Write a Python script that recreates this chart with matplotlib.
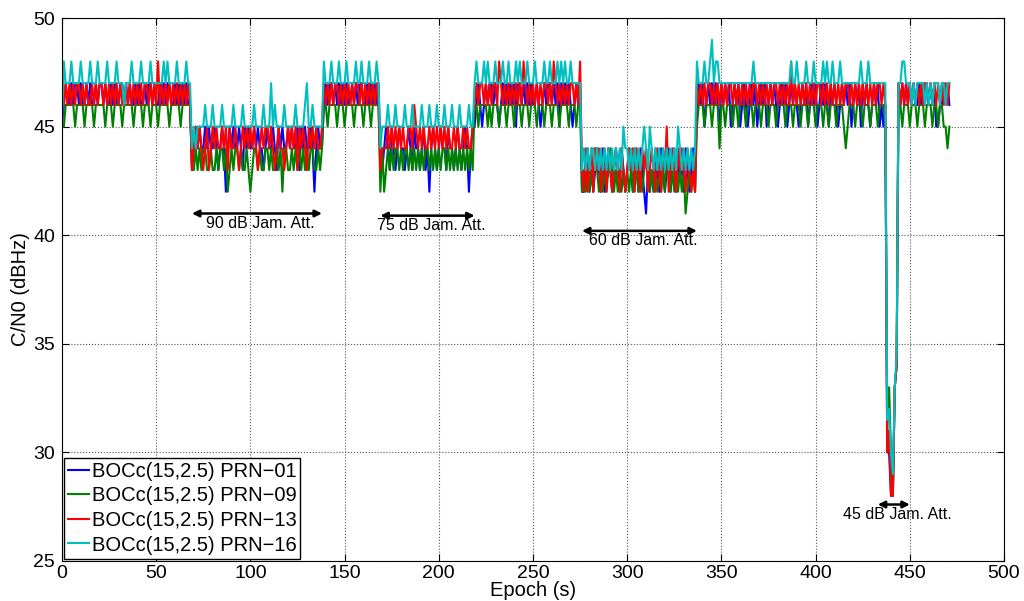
"""
C/N0 of four BOCc(15,2.5) signals during the jamming attenuation steps.
"""
import numpy as np
import matplotlib
matplotlib.use("Agg")
import matplotlib.pyplot as plt

plt.rcParams["font.family"] = ["Liberation Sans", "DejaVu Sans"]

# C/N0 values, one sample per second from t = 0 s.
# Digit strings hold value - 40 dBHz; the deep drop near 440 s is kept as
# a separate list of plain dBHz values.  Segments: pre, 90 dB, pre, 75 dB,
# pre, 60 dB, pre, (drop), post.
prn01_seg = [
    "5676676776 7667676676 7767667676 6776767667 6766767767 6676767766 767676766",
    "3454544545 4454345424 5454454354 5445454434 5445435454 4545445354 5445424544",
    "6767767676 7676676767 7667676767",
    "4345435434 5443454354 4345342454 3454435443 4543454245",
    "5676567677 6765676767 6757767676 7667656767 7676757676 7656767",
    "2234232343 2423432343 2432343243 2432132324 3243234234 2343243234 2",
    "6767567676 7657676756 7675676567 6756767567 6765676756 7676567675 "
    "6767567676 5767656767 6756767576 7656767565 6",
]
prn09_seg = [
    "5566666566 6656666566 6665666566 6656666656 6665666566 6566666566 666566666",
    "3343434433 4334344342 3434434334 3234434334 4343343424 4334343434 3434433434",
    "6656666566 6566665666 6566656666",
    "2423434344 3434434343 4343443434 3434434343 4343434343",
    "6656666565 6665666566 6566656665 6665666566 6566656666 5666566",
    "2323232432 3232343232 3232323243 2323432323 2323243232 3232312323 2",
    "5666566656 6646656665 6656665666 5666566656 6656666566 6566656665 "
    "6665666566 5666566654 5666566656 6656665666 5",
]
prn13_seg = [
    "7676767677 6767667676 7767676767 6766767676 7676776767 6867676767 676767676",
    "3454543453 4545445453 5445434545 4545434545 5454345443 4545453545 4354545445",
    "7676767767 6767676776 7676767676",
    "3444545454 5454455465 4545445454 5454545445 4544545445",
    "6767767676 7768767676 7676768767 6767676776 7687676767 6776768",
    "3242342434 2342432343 2432343424 3243423432 4324352343 2434324323 2",
    "7676767767 6767676776 7676767676 7767676767 6776767676 8676767676 "
    "7676776767 6767676767 7676767676 7676767767 6",
]
prn16_seg = [
    "5877787777 8777787778 7777877778 7776777877 7787777877 7777878777 787777877",
    "4545555655 5655556555 5565555655 5556555565 5575655556 5555565555 6755655555",
    "8777877787 7787777877 8777877787",
    "4555655565 5556555655 5565556555 6555655565 5565555655",
    "7877787877 7877787787 7787877787 7787777877 8777878787 7877777",
    "3434344343 4343434343 4354434343 4345435434 3434343434 3543434343 4",
    "8777877897 8877777777 7777777777 8777777777 7777777777 8778777787 "
    "7787777878 7787778777 7777777877 7877777777 7",
]
prn01_drop = [30, 30, 28, 28, 33, 34]
prn09_drop = [31, 33, 30, 28, 33, 34]
prn13_drop = [30, 31, 28, 28, 33, 34]
prn16_drop = [31.5, 32, 30, 29, 33, 34.5]
prn01_post = "7676767676 6767676767 55667676"
prn09_post = "6656665666 5666566656 65665545"
prn13_post = "7676767676 7676776767 67676767"
prn16_post = "7788777676 7777676767 77677677"

labels = ["BOCc(15,2.5) PRN\u221201", "BOCc(15,2.5) PRN\u221209",
          "BOCc(15,2.5) PRN\u221213", "BOCc(15,2.5) PRN\u221216"]
colors = ["#0000ff", "#008000", "#ff0000", "#00bfbf"]

jam_labels = ["90 dB Jam. Att.", "75 dB Jam. Att.", "60 dB Jam. Att.", "45 dB Jam. Att."]
jam_start = [69, 169, 276, 433]
jam_end = [138, 219, 337, 450]
jam_arrow_y = [41.0, 40.9, 40.2, 27.6]


def _decode(s):
    return [40 + int(c) for c in "".join(s.split())]


def _series(segs, drop, post):
    vals = []
    for s in segs:
        vals += _decode(s)
    return np.array(vals + list(drop) + _decode(post), float)


series = [
    _series(prn01_seg, prn01_drop, prn01_post),
    _series(prn09_seg, prn09_drop, prn09_post),
    _series(prn13_seg, prn13_drop, prn13_post),
    _series(prn16_seg, prn16_drop, prn16_post),
]

fig = plt.figure(figsize=(10.24, 6.01), dpi=100)
ax = fig.add_axes([0.0605, 0.0666, 0.92, 0.9034])

for vals, lab, c in zip(series, labels, colors):
    ax.plot(np.arange(len(vals)), vals, color=c, lw=1.5, label=lab)

for lab, x0, x1, y in zip(jam_labels, jam_start, jam_end, jam_arrow_y):
    ax.annotate("", xy=(x0, y), xytext=(x1, y),
                arrowprops=dict(arrowstyle="<|-|>", color="k", lw=1.8,
                                mutation_scale=10, shrinkA=0, shrinkB=0))
    ax.text((x0 + x1) / 2 + 2, y - 0.12, lab, ha="center", va="top", fontsize=11.5)

ax.set_xlim(0, 500)
ax.set_ylim(25, 50)
ax.set_xticks(np.arange(0, 501, 50))
ax.set_yticks(np.arange(25, 51, 5))
ax.tick_params(direction="in", top=True, right=True, labelsize=14, length=5)
ax.tick_params(axis="x", pad=3)
ax.tick_params(axis="y", pad=5)
ax.grid(True, linestyle=":", color="#555555", lw=0.8)
ax.set_xlabel("Epoch (s)", fontsize=14.5, labelpad=-1)
ax.set_ylabel("C/N0 (dBHz)", fontsize=14.5, labelpad=2)

leg = ax.legend(loc="lower left", fontsize=14.5, handlelength=1.0, handletextpad=0.15,
                labelspacing=0.28, borderaxespad=0.12, borderpad=0.2,
                fancybox=False, framealpha=1)
leg.get_frame().set_edgecolor("k")
leg.get_frame().set_linewidth(1.0)

fig.savefig("out.png", dpi=100)
plt.close(fig)
